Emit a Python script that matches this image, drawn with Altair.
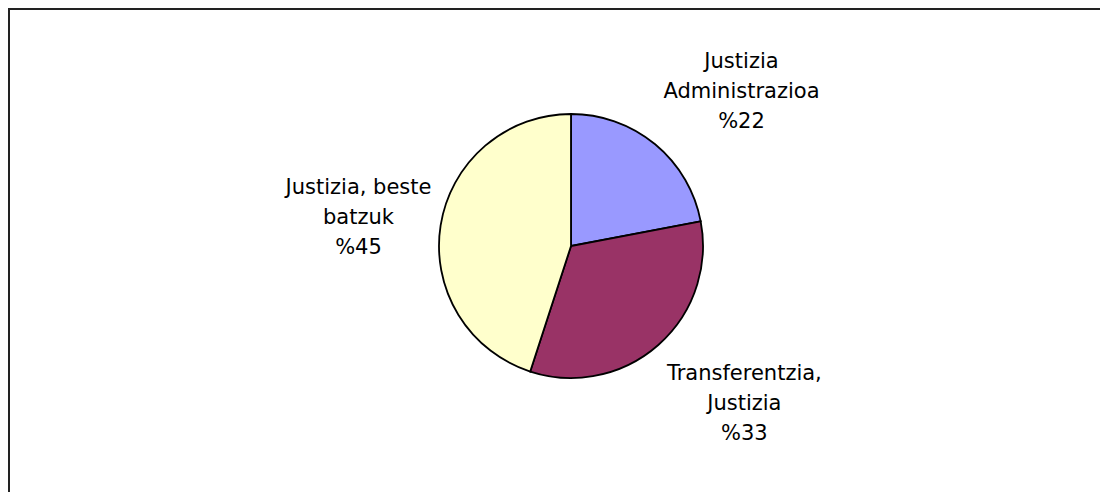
import altair as alt
import pandas as pd

categories = ["Justizia Administrazioa", "Transferentzia, Justizia", "Justizia, beste batzuk"]
label_lines = [
    "Justizia\nAdministrazioa\n%22",
    "Transferentzia,\nJustizia\n%33",
    "Justizia, beste\nbatzuk\n%45",
]
values = [22, 33, 45]
colors = ["#9999FF", "#993366", "#FFFFCC"]

df = pd.DataFrame({
    "cat": categories,
    "label": label_lines,
    "value": values,
    "order": list(range(len(values))),
})

W, H = 1092, 484
CX, CY = 563, 238
LH = 30

pie = alt.Chart(df).mark_arc(radius=132, stroke="#000000", strokeWidth=1.8).encode(
    theta=alt.Theta("value:Q", stack=True),
    order=alt.Order("order:Q"),
    color=alt.Color("cat:N", scale=alt.Scale(domain=categories, range=colors), legend=None),
    x=alt.value(CX),
    y=alt.value(CY),
)

text = alt.Chart(df).transform_joinaggregate(
    total="sum(value)"
).transform_window(
    cum="sum(value)", sort=[alt.SortField("order")], frame=[None, 0]
).transform_calculate(
    mid="(datum.cum - datum.value / 2) / datum.total * 2 * PI"
).transform_calculate(
    lx=f"{CX} + 120 * sin(datum.mid) + 94 * (sin(datum.mid) >= 0 ? 1 : -1)",
    ly=f"{CY} - 205 * cos(datum.mid) - 26",
).mark_text(
    font="DejaVu Sans", fontSize=21, lineBreak="\n",
    lineHeight=LH, align="center", baseline="middle", color="#000000",
).encode(
    text="label:N",
    x=alt.X("lx:Q", scale=None, axis=None),
    y=alt.Y("ly:Q", scale=None, axis=None),
)

border_top = alt.Chart(df).mark_rule(color="#222222", strokeWidth=2).encode(
    x=alt.value(0), x2=alt.value(W), y=alt.value(1)
)
border_left = alt.Chart(df).mark_rule(color="#222222", strokeWidth=2).encode(
    x=alt.value(1), y=alt.value(0), y2=alt.value(H)
)

chart = alt.layer(pie, text, border_top, border_left).properties(
    width=W, height=H, padding=0,
    autosize=alt.AutoSizeParams(type="none"),
).configure_view(stroke="transparent", strokeWidth=0)

chart.save("out.html", embed_options={"renderer": "svg", "actions": False})
